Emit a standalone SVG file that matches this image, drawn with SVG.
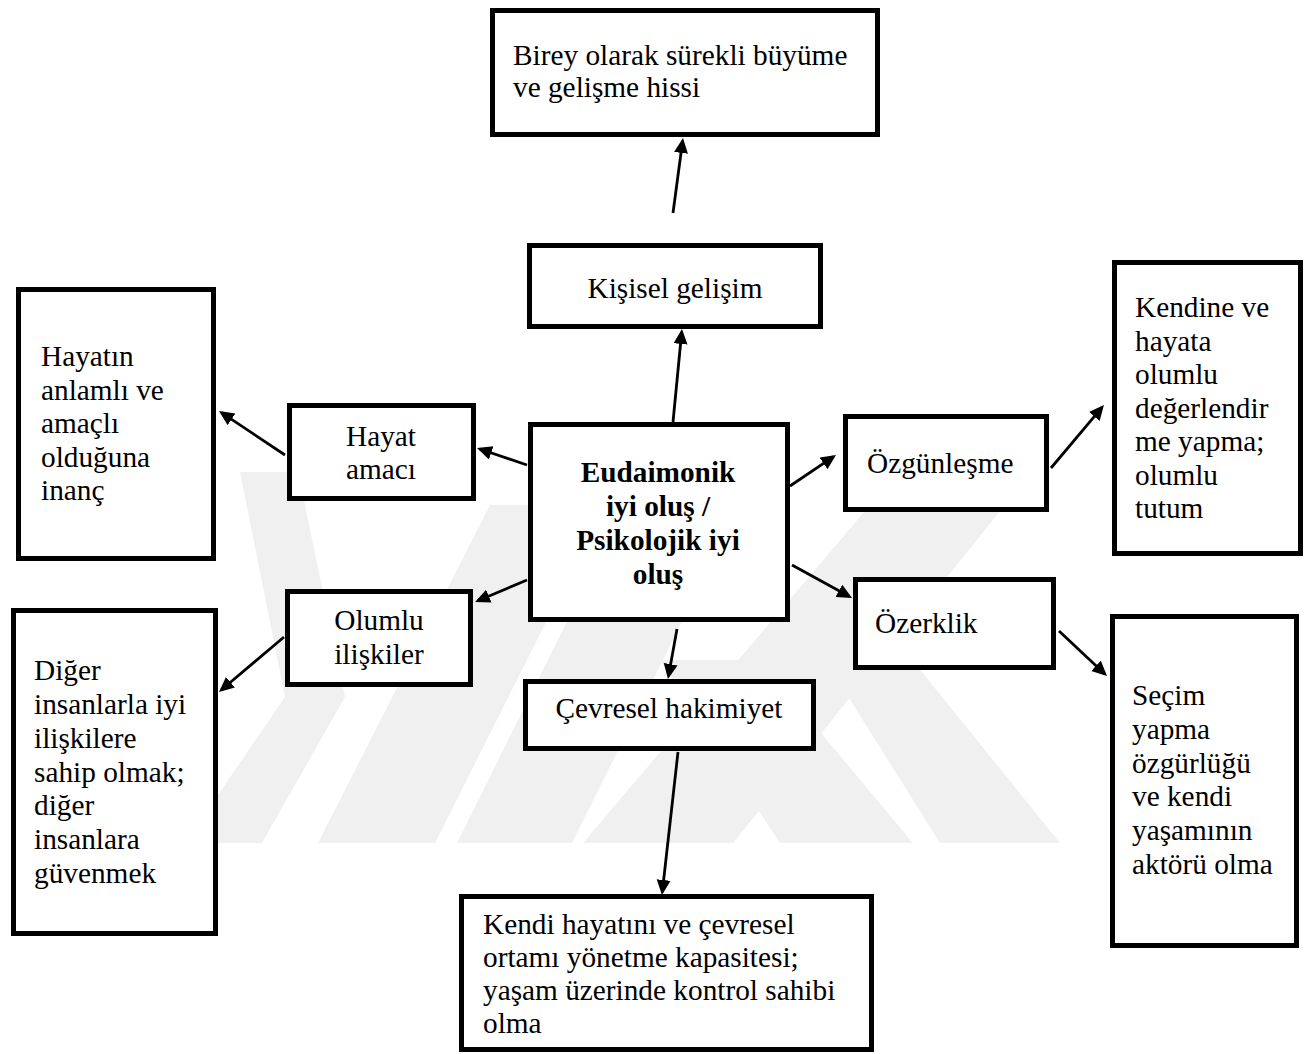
<svg xmlns="http://www.w3.org/2000/svg" width="1313" height="1054" viewBox="0 0 1313 1054">
  <defs>
    <style>
      .box { fill: #ffffff; stroke: #000000; stroke-width: 5; stroke-linejoin: miter; }
      .t { font-family: "Liberation Serif", "Times New Roman", serif; font-size: 29.3px; fill: #000000; }
      .b { font-weight: bold; }
      .c { text-anchor: middle; }
      .wm { fill: #f0f0f0; }
      .conn line { stroke: #000000; stroke-width: 2.8; marker-end: url(#arr); }
    </style>
    <marker id="arr" markerUnits="userSpaceOnUse" markerWidth="16" markerHeight="15" refX="12" refY="7" orient="auto">
      <path d="M0,0 L15,7 L0,14 z" fill="#000000"/>
    </marker>
  </defs>
  <rect width="1313" height="1054" fill="#ffffff"/>

  <g id="watermark">
    <polygon class="wm" points="240,472 298,472 345,697 262,843 185,843 285,697"/>
    <polygon class="wm" points="318,843 435,843 605,505 490,505"/>
    <polygon class="wm" points="457,843 572,843 720,545 605,545"/>
    <polygon class="wm" points="583,843 733,843 1005,505 870,505"/>
    <polygon class="wm" points="940,843 1060,843 880,620 800,620"/>
    <polygon class="wm" points="780,843 913,843 760,660 660,660"/>
  </g>

  <g id="connectors" class="conn">
    <line x1="673" y1="213" x2="682.6" y2="141"/>
    <line x1="673" y1="422" x2="681.7" y2="332"/>
    <line x1="527" y1="465" x2="479.8" y2="449"/>
    <line x1="285" y1="455" x2="221.5" y2="412.7"/>
    <line x1="527" y1="580" x2="477.8" y2="600.8"/>
    <line x1="284" y1="637" x2="221.3" y2="690"/>
    <line x1="790" y1="486" x2="833.5" y2="456.7"/>
    <line x1="1051" y1="468" x2="1102" y2="407.3"/>
    <line x1="792" y1="565" x2="849.4" y2="596.6"/>
    <line x1="1059" y1="631" x2="1104.8" y2="674"/>
    <line x1="677" y1="629" x2="668.5" y2="676"/>
    <line x1="678" y1="752" x2="662.3" y2="892"/>
  </g>

  <g id="node-birey">
    <rect class="box" x="492.5" y="10.5" width="385" height="124"/>
    <text class="t" x="513" y="65">Birey olarak sürekli büyüme</text>
    <text class="t" x="513" y="97">ve gelişme hissi</text>
  </g>

  <g id="node-kisisel">
    <rect class="box" x="529.5" y="245.5" width="291" height="81"/>
    <text class="t c" x="675" y="298">Kişisel gelişim</text>
  </g>

  <g id="node-center">
    <rect class="box" x="530.5" y="424.5" width="257" height="195"/>
    <text class="t b c" x="658" y="482">Eudaimonik</text>
    <text class="t b c" x="658" y="516">iyi oluş /</text>
    <text class="t b c" x="658" y="550">Psikolojik iyi</text>
    <text class="t b c" x="658" y="584">oluş</text>
  </g>

  <g id="node-hayat-amaci">
    <rect class="box" x="289.5" y="405.5" width="184" height="93"/>
    <text class="t c" x="381" y="446">Hayat</text>
    <text class="t c" x="381" y="479">amacı</text>
  </g>

  <g id="node-hayatin">
    <rect class="box" x="18.5" y="289.5" width="195" height="269"/>
    <text class="t" x="41" y="366">Hayatın</text>
    <text class="t" x="41" y="399.5">anlamlı ve</text>
    <text class="t" x="41" y="433">amaçlı</text>
    <text class="t" x="41" y="466.5">olduğuna</text>
    <text class="t" x="41" y="500">inanç</text>
  </g>

  <g id="node-kendine">
    <rect class="box" x="1114.5" y="262.5" width="186" height="291"/>
    <text class="t" x="1135" y="317">Kendine ve</text>
    <text class="t" x="1135" y="350.5">hayata</text>
    <text class="t" x="1135" y="384">olumlu</text>
    <text class="t" x="1135" y="417.5">değerlendir</text>
    <text class="t" x="1135" y="451">me yapma;</text>
    <text class="t" x="1135" y="484.5">olumlu</text>
    <text class="t" x="1135" y="518">tutum</text>
  </g>

  <g id="node-ozgunlesme">
    <rect class="box" x="845.5" y="416.5" width="201" height="93"/>
    <text class="t" x="867" y="473">Özgünleşme</text>
  </g>

  <g id="node-ozerklik">
    <rect class="box" x="855.5" y="579.5" width="198" height="88"/>
    <text class="t" x="875" y="633">Özerklik</text>
  </g>

  <g id="node-secim">
    <rect class="box" x="1112.5" y="616.5" width="184" height="329"/>
    <text class="t" x="1132" y="705">Seçim</text>
    <text class="t" x="1132" y="739">yapma</text>
    <text class="t" x="1132" y="773">özgürlüğü</text>
    <text class="t" x="1132" y="806">ve kendi</text>
    <text class="t" x="1132" y="840">yaşamının</text>
    <text class="t" x="1132" y="874">aktörü olma</text>
  </g>

  <g id="node-olumlu">
    <rect class="box" x="287.5" y="591.5" width="183" height="93"/>
    <text class="t c" x="379" y="630">Olumlu</text>
    <text class="t c" x="379" y="664">ilişkiler</text>
  </g>

  <g id="node-diger">
    <rect class="box" x="13.5" y="610.5" width="202" height="323"/>
    <text class="t" x="34" y="680">Diğer</text>
    <text class="t" x="34" y="714">insanlarla iyi</text>
    <text class="t" x="34" y="748">ilişkilere</text>
    <text class="t" x="34" y="782">sahip olmak;</text>
    <text class="t" x="34" y="815">diğer</text>
    <text class="t" x="34" y="849">insanlara</text>
    <text class="t" x="34" y="883">güvenmek</text>
  </g>

  <g id="node-cevresel">
    <rect class="box" x="525.5" y="681.5" width="288" height="67"/>
    <text class="t c" x="669" y="718">Çevresel hakimiyet</text>
  </g>

  <g id="node-kendi">
    <rect class="box" x="461.5" y="896.5" width="410" height="153"/>
    <text class="t" x="483" y="934">Kendi hayatını ve çevresel</text>
    <text class="t" x="483" y="967">ortamı yönetme kapasitesi;</text>
    <text class="t" x="483" y="1000">yaşam üzerinde kontrol sahibi</text>
    <text class="t" x="483" y="1033">olma</text>
  </g>
</svg>
